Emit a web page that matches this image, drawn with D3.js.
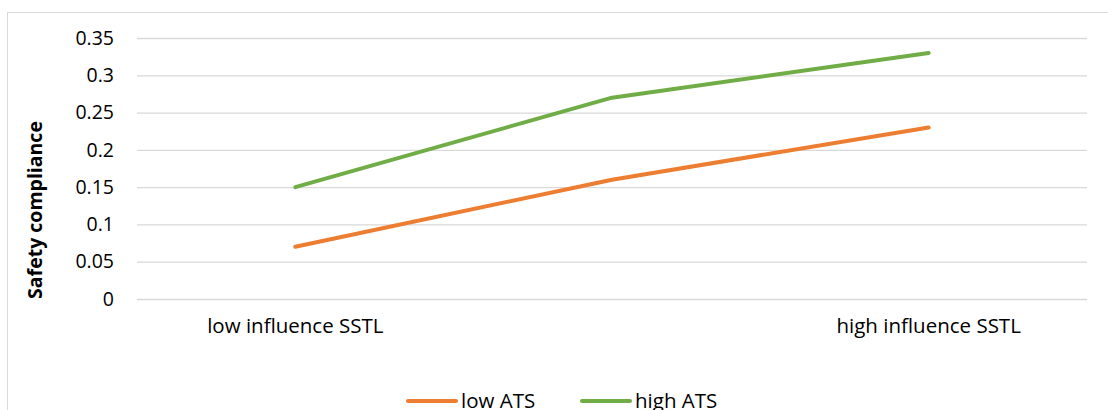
<!DOCTYPE html>
<html><head><meta charset="utf-8">
<script src="https://cdn.jsdelivr.net/npm/d3@7"></script>
<style>body{margin:0;background:#fff;}svg{display:block;font-family:"Open Sans",sans-serif;}</style>
</head><body><svg id="c" width="1108" height="410"></svg>
<script>
const categories = ["low influence SSTL", "", "high influence SSTL"];
const lowATS = [0.07, 0.16, 0.23];
const highATS = [0.15, 0.27, 0.33];
const seriesNames = ["low ATS", "high ATS"];
const colors = ["#ED7D31", "#70AD47"];
const yTicks = [0, 0.05, 0.1, 0.15, 0.2, 0.25, 0.3, 0.35];
const yTitle = "Safety compliance";

const svg = d3.select("#c");
const m = {l:137, r:1087, t:38, b:299};
svg.append("rect").attr("x",7.5).attr("y",12.5).attr("width",1120).attr("height",420)
  .attr("fill","none").attr("stroke","#d9d9d9");

const x = d3.scaleBand().domain(d3.range(categories.length)).range([m.l,m.r]);
const y = d3.scaleLinear().domain([0,0.35]).range([m.b,m.t]);

const yAxis = svg.append("g").attr("transform",`translate(${m.l},0)`)
  .call(d3.axisLeft(y).tickValues(yTicks).tickSize(-(m.r-m.l)).tickPadding(23)
    .tickFormat(d=>String(+d.toFixed(2))));
yAxis.select(".domain").remove();
yAxis.selectAll("line").attr("stroke","#d9d9d9").attr("stroke-width",1.3);
yAxis.selectAll("text").attr("font-size",19.5).attr("fill","#000").attr("font-family","Open Sans");

const xAxis = svg.append("g").attr("transform",`translate(0,${m.b})`)
  .call(d3.axisBottom(x).tickSize(0).tickPadding(19).tickFormat(i=>categories[i]));
xAxis.select(".domain").remove();
xAxis.selectAll("text").attr("font-size",20.5).attr("fill","#000").attr("font-family","Open Sans");

svg.append("text").attr("transform","translate(42,210) rotate(-90)")
  .attr("text-anchor","middle").attr("font-weight","bold").attr("font-size",19.5)
  .attr("fill","#000").text(yTitle);

const line = d3.line().x((d,i)=>x(i)+x.bandwidth()/2).y(d=>y(d));
[lowATS, highATS].forEach((s,k)=>{
  svg.append("path").datum(s).attr("d",line).attr("fill","none")
    .attr("stroke",colors[k]).attr("stroke-width",4).attr("stroke-linecap","round")
    .attr("stroke-linejoin","round");
});

const legX = [408, 582];
seriesNames.forEach((n,k)=>{
  const g = svg.append("g").attr("transform",`translate(${legX[k]},401)`);
  g.append("line").attr("x1",0).attr("x2",48).attr("stroke",colors[k])
    .attr("stroke-width",4).attr("stroke-linecap","round");
  g.append("text").attr("x",53).attr("y",7).attr("font-size",20.5).attr("fill","#000").text(n);
});
</script></body></html>
